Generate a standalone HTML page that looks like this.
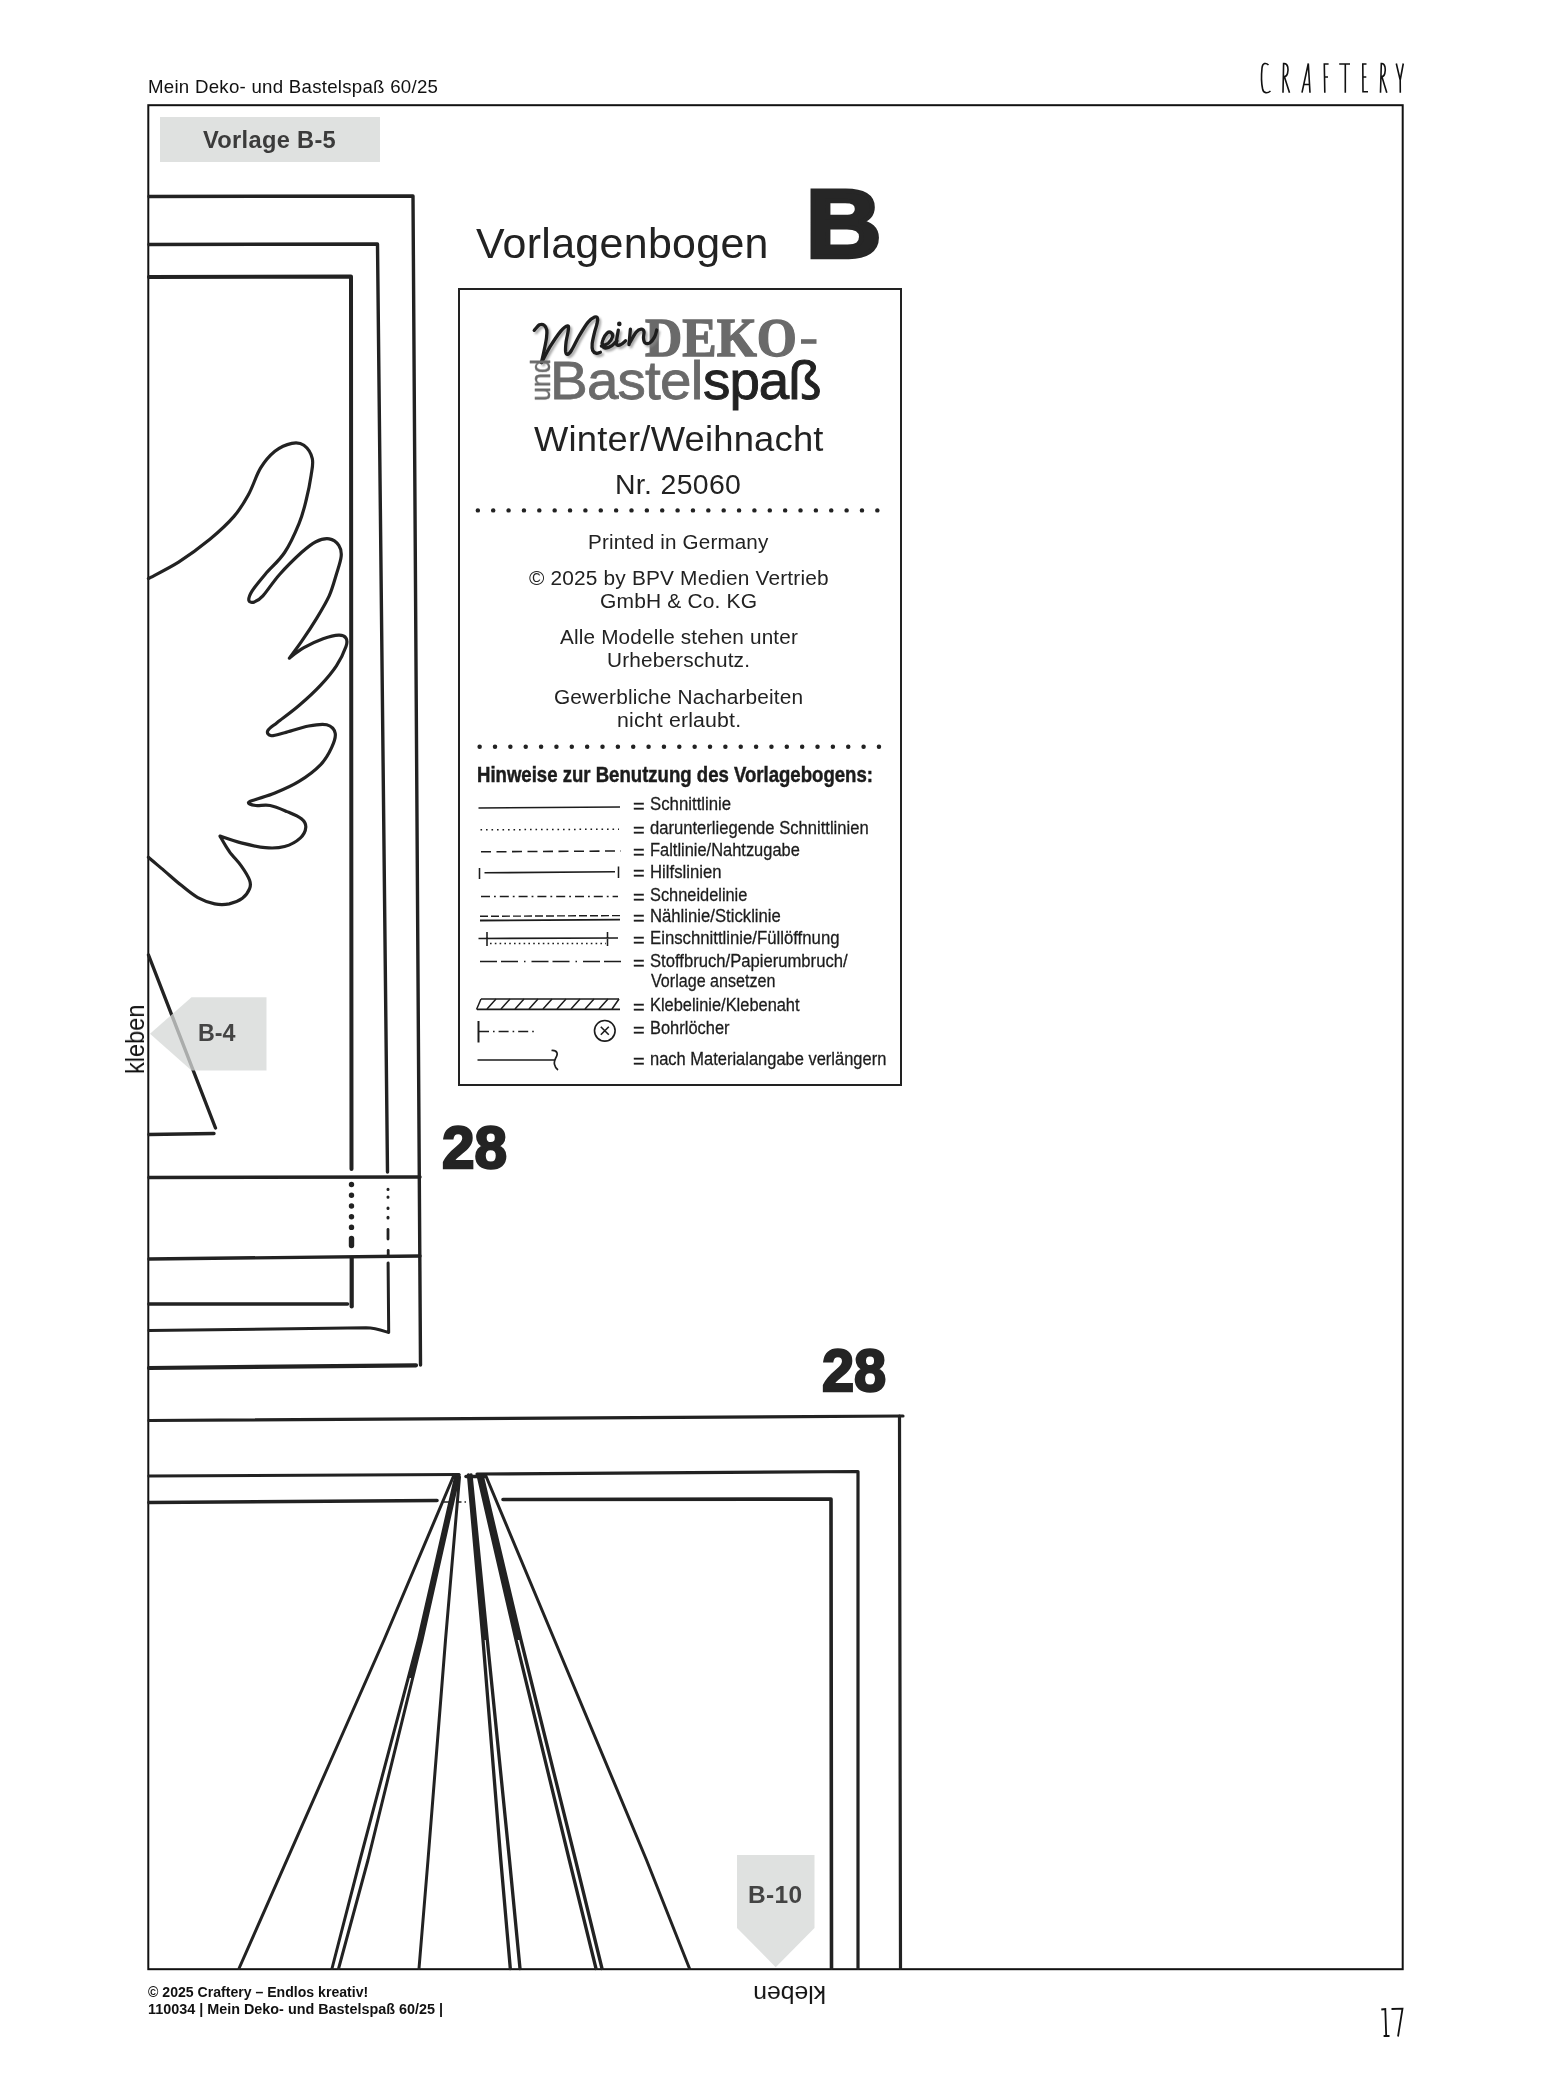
<!DOCTYPE html>
<html lang="de">
<head>
<meta charset="utf-8">
<title>Vorlage B-5</title>
<style>
html,body{margin:0;padding:0;}
html{background:#fff;}
body{width:1551px;height:2075px;position:relative;overflow:hidden;font-family:"Liberation Sans",sans-serif;color:#1a1a1a;}
.abs{position:absolute;white-space:nowrap;line-height:1;}
#art{position:absolute;left:0;top:0;}
.sx{transform-origin:0 0;display:inline-block;}
#tag{left:159.6px;top:117.1px;width:220.4px;height:45.4px;background:#dfe1e0;}
#box{left:457.6px;top:287.6px;width:440.6px;height:794.4px;border:2px solid #222;}
</style>
</head>
<body>
<div class="abs" id="tag"></div>
<div class="abs" id="box"></div>
<svg id="art" width="1551" height="2075" viewBox="0 0 1551 2075" fill="none" stroke="#222" stroke-linecap="round" stroke-linejoin="round">
<!-- page frame -->
<rect x="148.3" y="105.2" width="1254.4" height="1864" stroke="#111" stroke-width="2" stroke-linejoin="miter"/>
<!-- upper-left template: nested frames -->
<g stroke-width="3.4">
<path d="M149,196.5 L413,196 L420.5,1365"/>
<path d="M149,244.5 L377.5,244 L387.5,1172"/>
<path d="M149,277 L351,276.5 L351.5,1169" stroke-width="4"/>
<path d="M149,1177.5 L420,1177"/>
<path d="M149,1259 L420,1256"/>
<path d="M351.7,1258 L351.7,1306.5" stroke-width="4.2"/>
<path d="M149,1304 L347.5,1304" stroke-width="3.6"/>
<path d="M388.1,1263 L388.7,1332.6 C382,1330.5 376,1328 366,1327.8 L149,1330.5" stroke-width="3"/>
<path d="M149,1368 L416,1365.3" stroke-width="4.2"/>
</g>
<!-- dotted fold marks -->
<path d="M351.5,1184.5 L351.5,1230" stroke-width="5.4" stroke-dasharray="0.1 10.6"/>
<path d="M351.5,1238.5 L351.5,1245.5" stroke-width="5.4"/>
<path d="M388,1189.3 L388,1189.4 M388,1197.1 L388,1197.2 M388,1208 L388,1208.6 M388,1217.3 L388,1218" stroke-width="3"/>
<path d="M388,1229.5 L388,1239" stroke-width="2.8"/>
<path d="M388.2,1250.5 L388.2,1255" stroke-width="2.8"/>
<!-- wing -->
<path stroke-width="3.2" d="M148.4,578.6 C153.5,575.8 168.3,568.7 178.6,562.2 C188.8,555.6 200.6,546.9 209.9,539.3 C219.1,531.6 227.6,523.8 234.0,516.4 C240.4,509.0 244.0,502.7 248.4,494.7 C252.9,486.7 256.1,475.4 260.5,468.2 C264.9,461.0 269.7,455.5 274.9,451.3 C280.2,447.2 287.0,444.4 291.8,443.4 C296.6,442.4 300.4,442.8 303.9,445.3 C307.3,447.8 311.1,453.5 312.3,458.6 C313.5,463.6 312.1,468.6 311.1,475.4 C310.1,482.2 308.3,491.5 306.3,499.5 C304.3,507.6 302.7,514.8 299.0,523.6 C295.4,532.4 290.2,544.1 284.6,552.5 C279.0,561.0 270.7,567.8 265.3,574.2 C259.9,580.6 254.8,586.7 252.0,591.1 C249.3,595.5 248.5,598.9 248.9,600.7 C249.3,602.5 252.1,602.7 254.5,601.9 C256.8,601.1 258.7,600.5 262.9,595.9 C267.1,591.3 273.3,581.4 279.8,574.2 C286.2,567.0 295.4,558.0 301.4,552.5 C307.5,547.1 311.3,544.0 315.9,541.7 C320.5,539.4 325.3,538.2 329.2,538.8 C333.0,539.4 336.8,542.4 338.8,545.3 C340.8,548.2 341.6,551.3 341.2,556.1 C340.8,561.0 338.4,567.6 336.4,574.2 C334.4,580.8 332.4,588.7 329.2,595.9 C325.9,603.1 321.7,610.0 317.1,617.6 C312.5,625.2 306.1,634.9 301.4,641.7 C296.8,648.4 291.4,655.3 289.4,658.1 C291.8,656.3 298.2,650.9 303.9,647.7 C309.5,644.5 317.3,640.9 323.1,638.8 C329.0,636.7 335.0,635.3 338.8,635.2 C342.6,635.1 344.8,636.2 346.0,638.1 C347.2,640.0 347.6,641.9 346.0,646.5 C344.4,651.1 340.6,659.4 336.4,665.8 C332.2,672.2 326.9,678.4 320.7,685.1 C314.5,691.7 306.3,699.3 299.0,705.5 C291.8,711.8 282.6,718.2 277.3,722.4 C272.1,726.6 268.7,728.6 267.7,730.8 C266.7,733.1 268.5,735.3 271.3,735.7 C274.1,736.0 278.4,734.4 284.6,732.8 C290.8,731.2 301.6,727.3 308.7,726.0 C315.7,724.7 322.3,723.6 326.7,724.8 C331.2,726.0 334.4,729.4 335.2,733.3 C336.0,737.1 334.0,742.5 331.6,747.7 C329.2,752.9 326.1,759.0 320.7,764.6 C315.3,770.2 306.7,776.7 299.0,781.4 C291.4,786.2 282.2,790.0 274.9,793.0 C267.7,796.0 260.1,797.9 255.7,799.5 C251.2,801.1 248.4,801.6 248.4,802.7 C248.4,803.7 252.0,805.1 255.7,805.5 C259.3,806.0 264.9,804.5 270.1,805.5 C275.3,806.5 281.8,809.4 287.0,811.6 C292.2,813.8 298.3,816.2 301.4,818.8 C304.6,821.4 306.0,824.0 305.8,827.2 C305.6,830.4 303.8,834.9 300.2,838.1 C296.7,841.3 290.4,844.9 284.6,846.5 C278.8,848.1 272.5,848.3 265.3,847.7 C258.1,847.1 248.8,844.8 241.2,842.9 C233.7,841.0 223.5,837.3 220.0,836.1 C221.5,838.7 225.6,846.4 229.2,851.3 C232.7,856.3 237.8,861.0 241.2,865.8 C244.6,870.6 248.2,876.4 249.6,880.2 C251.0,884.1 250.8,885.7 249.6,888.7 C248.4,891.7 245.8,895.8 242.4,898.3 C239.0,900.8 233.8,902.9 229.2,903.9 C224.5,904.8 219.9,904.9 214.7,903.9 C209.5,902.8 203.5,900.7 197.8,897.6 C192.2,894.5 186.6,889.6 181.0,885.1 C175.3,880.6 169.5,875.2 164.1,870.6 C158.7,866.0 151.0,859.6 148.4,857.3"/>
<!-- triangle -->
<path stroke-width="3.4" d="M148.5,955 L215.5,1128"/>
<path stroke-width="3.4" d="M149,1134.5 L214,1133.5"/>
<!-- lower-left template -->
<g stroke-width="3.2">
<path d="M149,1420.5 L903,1416"/>
<path d="M899.5,1416 L900.5,1968.3"/>
<path d="M149,1476 L459,1474.5 M477,1474 L858,1471.5 L858,1968.3"/>
<path d="M149,1502.5 L437,1500.5 M503,1499.5 L831,1499 L831.5,1968.3" stroke-width="3.6"/>
</g>
<!-- fan -->
<g stroke-width="3">
<path d="M454,1475 L384,1640 L331,1760 L239,1968.5"/>
<path d="M456,1475 L418.3,1640 L360,1860 L332,1968.5"/>
<path d="M459,1475 L422,1640 L368,1860 L338.6,1968.5"/>
<path d="M459.5,1477 L445.5,1640 L428,1860 L419,1968.5"/>
<path d="M468.5,1475 L483,1640 L500.8,1860 L510.3,1968.5" stroke-width="3.3"/>
<path d="M471,1475 L487.3,1640 L509.5,1860 L520,1968.5" stroke-width="3.3"/>
<path d="M478,1475 L516,1640 L569.3,1860 L596,1968.5" stroke-width="3.3"/>
<path d="M482,1475 L521,1640 L575.5,1860 L602,1968.5" stroke-width="3.3"/>
<path d="M485.5,1475 L554.5,1640 L646.5,1860 L689.5,1968.5"/>
</g>
<g fill="#222" stroke="none">
<polygon points="468.5,1475 471,1475 487.3,1640 483,1640"/>
<polygon points="478,1475 482,1475 521,1640 516,1640"/>
<polygon points="456,1475 459,1475 422,1640 412,1678 408.5,1678 418.3,1640"/>
</g>
<path d="M466,1476.5 L485,1476.5" stroke-width="3.5"/>
<path d="M444,1502 L466,1502" stroke-width="1.4" stroke-dasharray="5 3 1.5 3" stroke-linecap="butt"/>
<!-- tags -->
<polygon points="191.5,997.3 266.5,997.3 266.5,1070.4 191.5,1070.4 150,1033.7" fill="rgb(213,215,214)" fill-opacity="0.76" stroke="none"/>
<polygon points="737,1855 814.5,1855 814.5,1928 775.7,1967.2 737,1928" fill="#dfe1e0" stroke="none"/>
<!-- info box dotted rows -->
<path d="M477.8,510.4 L877.6,510.4" stroke-width="4.4" stroke-dasharray="0.1 15.265"/>
<path d="M479.6,746.7 L879.2,746.7" stroke-width="4.4" stroke-dasharray="0.1 15.258"/>
<!-- legend samples -->
<g stroke="#1c1c1c" stroke-width="1.55" stroke-linecap="butt">
<path d="M478.5,808 L620,807"/>
<path d="M480.5,829.8 L619,829.2" stroke-width="1.5" stroke-dasharray="1.6 3.9"/>
<path d="M481,851.8 L621,851" stroke-dasharray="10 5.5"/>
<path d="M484.5,872.8 L615,871.8 M479.5,868 L479.5,879 M618.5,866.5 L618.5,878"/>
<path d="M481,896.5 L618,896.5" stroke-width="1.5" stroke-dasharray="9 4 1.8 4"/>
<path d="M480,916.3 L620,915.6" stroke-width="1.4" stroke-dasharray="8 3"/>
<path d="M480,920.5 L620,919.6" stroke-width="1.8"/>
<path d="M478.5,938.5 L618,938 M487,932 L487,946 M607.5,932 L607.5,946"/>
<path d="M490,943.5 L606,943.5" stroke-width="1.5" stroke-dasharray="1.6 3.2"/>
<path d="M480,961.5 L624,961.5" stroke-width="1.6" stroke-dasharray="17 4 17 6 1.5 6"/>
<path d="M481,999 L619,999 M477,1009.3 L620,1009.3" stroke-width="1.7"/>
<path d="M481,999 L476.5,1009.5 M496,999 L487,1009 M510,999 L501,1009 M524,999 L515,1009 M538,999 L529,1009 M552,999 L543,1009 M566,999 L557,1009 M580,999 L571,1009 M594,999 L585,1009 M608,999 L599,1009 M619,999 L612,1009" stroke-width="1.5"/>
<path d="M478.5,1021 L478.5,1042.5" stroke-width="2"/>
<path d="M479,1031.5 L537,1031.5" stroke-width="1.5" stroke-dasharray="10 4 1.6 4"/>
<circle cx="604.8" cy="1030.8" r="10.3" stroke-width="1.6"/>
<path d="M600.8,1026.8 L608.8,1034.8 M608.8,1026.8 L600.8,1034.8" stroke-width="1.6"/>
<path d="M477.5,1060 L555,1060 M551.5,1050.5 C557.5,1050 558.5,1054 555.5,1058.5 C553.5,1062 554,1067 558,1070" stroke-width="1.7"/>
</g>
<!-- logo -->
<rect x="801" y="339.2" width="15.5" height="4.6" fill="#6a6a6a" stroke="none"/>
<defs><filter id="sh" x="-0.1" y="-0.2" width="1.2" height="1.4"><feGaussianBlur stdDeviation="1.1"/></filter></defs>
<g stroke="#8a8a8a" stroke-width="3.2" fill="none" filter="url(#sh)" transform="translate(2,2.2)" opacity="0.75">
<path d="M534.2,330.3 C535.1,329.4 537.8,325.7 539.5,324.8 C541.2,324.0 543.1,324.4 544.3,325.3 C545.6,326.2 546.4,328.0 546.8,330.1 C547.1,332.2 546.9,334.7 546.5,337.9 C546.1,341.1 545.2,345.4 544.3,349.5 C543.5,353.6 541.9,360.4 541.4,362.5"/>
<path d="M541.4,362.5 C542.9,359.9 546.9,351.8 550.1,346.6 C553.4,341.3 557.9,334.6 560.8,331.1 C563.7,327.6 566.3,326.0 567.6,325.8 C568.8,325.6 568.6,327.5 568.3,330.1 C568.1,332.8 566.6,338.2 566.1,341.8 C565.7,345.3 565.4,349.3 565.6,351.4 C565.9,353.5 566.6,354.5 567.6,354.3 C568.5,354.2 569.5,353.5 571.4,350.5 C573.4,347.4 576.4,340.6 579.2,335.9 C581.9,331.3 585.3,325.6 587.9,322.4 C590.4,319.3 593.0,317.8 594.6,317.1 C596.2,316.4 597.1,317.0 597.5,318.1 C597.9,319.1 597.5,321.0 597.1,323.4 C596.6,325.7 595.4,328.7 594.6,332.1 C593.8,335.5 592.5,340.6 592.2,343.7 C591.9,346.7 592.0,348.8 592.7,350.5 C593.4,352.1 595.3,353.1 596.6,353.4 C597.9,353.6 599.8,352.4 600.4,352.2"/>
<path d="M601.4,346.1 C602.5,345.6 606.3,344.7 608.2,343.2 C610.0,341.7 612.0,338.7 612.5,336.9 C613.0,335.1 612.0,333.2 611.1,332.6 C610.2,331.9 608.6,331.8 607.2,333.0 C605.8,334.3 603.7,337.7 602.9,339.8 C602.0,341.9 601.9,344.2 602.4,345.6 C602.9,347.0 604.1,348.0 605.8,348.0 C607.4,348.0 610.2,346.8 612.0,345.6 C613.9,344.4 616.1,341.6 616.9,340.8"/>
<path d="M618.3,330.1 C618.0,332.4 616.1,341.2 616.4,343.7 C616.7,346.1 618.7,345.3 620.3,344.8 C621.8,344.4 624.7,341.5 625.6,340.8"/>
<path d="M630.4,329.2 C630.2,331.8 629.2,342.1 629.0,344.7"/>
<path d="M629.4,343.2 C630.6,341.3 634.3,334.4 636.2,332.1 C638.2,329.7 639.8,329.3 641.1,329.2 C642.3,329.1 643.6,330.1 644.0,331.6 C644.4,333.0 643.3,336.0 643.5,337.9 C643.6,339.7 643.9,341.9 644.9,342.7 C646.0,343.6 648.1,343.9 649.8,342.9 C651.4,341.9 653.4,339.1 654.6,336.9 C655.8,334.8 656.4,331.1 656.7,330.0"/>
</g>
<g id="mein" stroke="#1e1e1e" stroke-width="3.3" fill="none">
<path d="M534.2,330.3 C535.1,329.4 537.8,325.7 539.5,324.8 C541.2,324.0 543.1,324.4 544.3,325.3 C545.6,326.2 546.4,328.0 546.8,330.1 C547.1,332.2 546.9,334.7 546.5,337.9 C546.1,341.1 545.2,345.4 544.3,349.5 C543.5,353.6 541.9,360.4 541.4,362.5"/>
<path d="M541.4,362.5 C542.9,359.9 546.9,351.8 550.1,346.6 C553.4,341.3 557.9,334.6 560.8,331.1 C563.7,327.6 566.3,326.0 567.6,325.8 C568.8,325.6 568.6,327.5 568.3,330.1 C568.1,332.8 566.6,338.2 566.1,341.8 C565.7,345.3 565.4,349.3 565.6,351.4 C565.9,353.5 566.6,354.5 567.6,354.3 C568.5,354.2 569.5,353.5 571.4,350.5 C573.4,347.4 576.4,340.6 579.2,335.9 C581.9,331.3 585.3,325.6 587.9,322.4 C590.4,319.3 593.0,317.8 594.6,317.1 C596.2,316.4 597.1,317.0 597.5,318.1 C597.9,319.1 597.5,321.0 597.1,323.4 C596.6,325.7 595.4,328.7 594.6,332.1 C593.8,335.5 592.5,340.6 592.2,343.7 C591.9,346.7 592.0,348.8 592.7,350.5 C593.4,352.1 595.3,353.1 596.6,353.4 C597.9,353.6 599.8,352.4 600.4,352.2"/>
<path d="M601.4,346.1 C602.5,345.6 606.3,344.7 608.2,343.2 C610.0,341.7 612.0,338.7 612.5,336.9 C613.0,335.1 612.0,333.2 611.1,332.6 C610.2,331.9 608.6,331.8 607.2,333.0 C605.8,334.3 603.7,337.7 602.9,339.8 C602.0,341.9 601.9,344.2 602.4,345.6 C602.9,347.0 604.1,348.0 605.8,348.0 C607.4,348.0 610.2,346.8 612.0,345.6 C613.9,344.4 616.1,341.6 616.9,340.8"/>
<path d="M618.3,330.1 C618.0,332.4 616.1,341.2 616.4,343.7 C616.7,346.1 618.7,345.3 620.3,344.8 C621.8,344.4 624.7,341.5 625.6,340.8"/>
<path d="M630.4,329.2 C630.2,331.8 629.2,342.1 629.0,344.7"/>
<path d="M629.4,343.2 C630.6,341.3 634.3,334.4 636.2,332.1 C638.2,329.7 639.8,329.3 641.1,329.2 C642.3,329.1 643.6,330.1 644.0,331.6 C644.4,333.0 643.3,336.0 643.5,337.9 C643.6,339.7 643.9,341.9 644.9,342.7 C646.0,343.6 648.1,343.9 649.8,342.9 C651.4,341.9 653.4,339.1 654.6,336.9 C655.8,334.8 656.4,331.1 656.7,330.0"/>
</g>
<circle cx="619.3" cy="323.9" r="2.3" fill="#1e1e1e" stroke="none"/>
<!-- CRAFTERY wordmark -->
<g id="craftery" stroke="#111" stroke-width="1.6" stroke-linecap="butt" stroke-linejoin="miter">
<path d="M1268.5,65 C1266,62.5 1262.5,62.8 1262,68 C1261.2,76 1261.5,84 1262.6,89 C1263.5,93.5 1267.5,93.5 1270.5,91"/>
<path d="M1283,92.7 L1283.6,63.5 C1288.5,63 1288.5,70 1287.5,73.5 C1286.8,76 1285,77 1283.5,77 M1284.5,77 L1289.5,92.7"/>
<path d="M1302,92.7 L1308.3,63.5 L1310,92.7 M1304,84.5 L1309.5,84.5"/>
<path d="M1324.8,92.7 L1324.3,64 L1328.6,64 M1324.5,77 L1328,77"/>
<path d="M1339.2,64 L1350,64 M1345.3,64 L1345.3,92.7"/>
<path d="M1368,91.8 L1363,91.8 L1362.8,64 L1366.5,64 M1363,77 L1366.3,77"/>
<path d="M1380.5,92.7 L1381.3,63.5 C1385.5,63 1385.8,70 1384.8,73.5 C1384.2,76 1382.8,77 1381,77 M1382,77 L1386.8,92.7"/>
<path d="M1396.3,63.5 L1400.2,80 L1403.3,63.5 M1400.2,79 L1400.3,92.7"/>
</g>
<!-- page number 17 -->
<g stroke="#111" stroke-width="1.8" stroke-linecap="butt" stroke-linejoin="miter">
<path d="M1381.3,2009.5 L1385.3,2009 L1386.2,2035.8 M1383.6,2036 L1389.5,2036"/>
<path d="M1391.5,2009 L1402.5,2008.6 L1398,2036.5"/>
</g>
</svg>
<div class="abs" id="hdr" style="left:147.8px;top:77.6px;font-size:18.5px;letter-spacing:0.25px;color:#111;transform-origin:0 0;transform:scaleX(1.0094);">Mein Deko- und Bastelspaß 60/25</div>
<div class="abs" id="tagt" style="left:203.0px;top:128.8px;font-weight:bold;font-size:23.2px;letter-spacing:0.3px;color:#3b3b3b;transform-origin:0 0;transform:scaleX(1.0200);">Vorlage B-5</div>
<div class="abs" id="foot1" style="left:148.1px;top:1984.9px;font-weight:bold;font-size:14.1px;color:#111;transform-origin:0 0;transform:scaleX(0.9995);">© 2025 Craftery – Endlos kreativ!</div>
<div class="abs" id="foot2" style="left:147.8px;top:2001.5px;font-weight:bold;font-size:14.1px;color:#111;transform-origin:0 0;transform:scaleX(1.0202);">110034 | Mein Deko- und Bastelspaß 60/25 |</div>
<div class="abs" id="vb" style="left:476.0px;top:222.8px;font-size:42px;letter-spacing:0.3px;color:#222;transform-origin:0 0;transform:scaleX(1.0219);">Vorlagenbogen</div>
<div class="abs" id="ww" style="left:534.4px;top:420.8px;font-size:35.2px;letter-spacing:0.2px;color:#222;transform-origin:0 0;transform:scaleX(1.0336);">Winter/Weihnacht</div>
<div class="abs" id="nr" style="left:615.1px;top:471.3px;font-size:27.3px;letter-spacing:0.3px;color:#222;transform-origin:0 0;transform:scaleX(1.0424);">Nr. 25060</div>
<div class="abs" id="t1" style="left:587.6px;top:533.1px;font-size:19.4px;letter-spacing:0.15px;color:#222;transform-origin:0 0;transform:scaleX(1.0631);">Printed in Germany</div>
<div class="abs" id="t2" style="left:529.1px;top:569.1px;font-size:19.4px;letter-spacing:0.15px;color:#222;transform-origin:0 0;transform:scaleX(1.0766);">© 2025 by BPV Medien Vertrieb</div>
<div class="abs" id="t3" style="left:600.1px;top:592.2px;font-size:19.4px;letter-spacing:0.15px;color:#222;transform-origin:0 0;transform:scaleX(1.0825);">GmbH &amp; Co. KG</div>
<div class="abs" id="t4" style="left:560.1px;top:628.3px;font-size:19.4px;letter-spacing:0.15px;color:#222;transform-origin:0 0;transform:scaleX(1.0694);">Alle Modelle stehen unter</div>
<div class="abs" id="t5" style="left:607.4px;top:650.9px;font-size:19.4px;letter-spacing:0.15px;color:#222;transform-origin:0 0;transform:scaleX(1.0710);">Urheberschutz.</div>
<div class="abs" id="t6" style="left:554.0px;top:688.1px;font-size:19.4px;letter-spacing:0.15px;color:#222;transform-origin:0 0;transform:scaleX(1.0739);">Gewerbliche Nacharbeiten</div>
<div class="abs" id="t7" style="left:617.1px;top:710.7px;font-size:19.4px;letter-spacing:0.15px;color:#222;transform-origin:0 0;transform:scaleX(1.0982);">nicht erlaubt.</div>
<div class="abs" id="hin" style="left:476.9px;top:765.1px;font-weight:bold;font-size:21.3px;color:#1c1c1c;-webkit-text-stroke:0.45px #1c1c1c;transform-origin:0 0;transform:scaleX(0.8721);">Hinweise zur Benutzung des Vorlagebogens:</div>
<div class="abs" id="l1" style="left:650.1px;top:794.2px;font-size:19.1px;color:#1c1c1c;-webkit-text-stroke:0.3px #1c1c1c;transform-origin:0 0;transform:scaleX(0.8791);">Schnittlinie</div>
<div class="abs" id="e1" style="left:633.4px;top:795.8px;font-size:19.1px;color:#1c1c1c;-webkit-text-stroke:0.35px #1c1c1c;transform-origin:0 0;transform:scaleX(1.0500);">=</div>
<div class="abs" id="l2" style="left:650.1px;top:818.2px;font-size:19.1px;color:#1c1c1c;-webkit-text-stroke:0.3px #1c1c1c;transform-origin:0 0;transform:scaleX(0.8692);">darunterliegende Schnittlinien</div>
<div class="abs" id="e2" style="left:633.4px;top:819.8px;font-size:19.1px;color:#1c1c1c;-webkit-text-stroke:0.35px #1c1c1c;transform-origin:0 0;transform:scaleX(1.0500);">=</div>
<div class="abs" id="l3" style="left:650.1px;top:840.4px;font-size:19.1px;color:#1c1c1c;-webkit-text-stroke:0.3px #1c1c1c;transform-origin:0 0;transform:scaleX(0.8605);">Faltlinie/Nahtzugabe</div>
<div class="abs" id="e3" style="left:633.4px;top:841.8px;font-size:19.1px;color:#1c1c1c;-webkit-text-stroke:0.35px #1c1c1c;transform-origin:0 0;transform:scaleX(1.0500);">=</div>
<div class="abs" id="l4" style="left:650.1px;top:861.5px;font-size:19.1px;color:#1c1c1c;-webkit-text-stroke:0.3px #1c1c1c;transform-origin:0 0;transform:scaleX(0.8750);">Hilfslinien</div>
<div class="abs" id="e4" style="left:633.4px;top:862.8px;font-size:19.1px;color:#1c1c1c;-webkit-text-stroke:0.35px #1c1c1c;transform-origin:0 0;transform:scaleX(1.0500);">=</div>
<div class="abs" id="l5" style="left:650.1px;top:884.9px;font-size:19.1px;color:#1c1c1c;-webkit-text-stroke:0.3px #1c1c1c;transform-origin:0 0;transform:scaleX(0.8571);">Schneidelinie</div>
<div class="abs" id="e5" style="left:633.4px;top:886.8px;font-size:19.1px;color:#1c1c1c;-webkit-text-stroke:0.35px #1c1c1c;transform-origin:0 0;transform:scaleX(1.0500);">=</div>
<div class="abs" id="l6" style="left:650.1px;top:906.2px;font-size:19.1px;color:#1c1c1c;-webkit-text-stroke:0.3px #1c1c1c;transform-origin:0 0;transform:scaleX(0.8743);">Nählinie/Sticklinie</div>
<div class="abs" id="e6" style="left:633.4px;top:907.8px;font-size:19.1px;color:#1c1c1c;-webkit-text-stroke:0.35px #1c1c1c;transform-origin:0 0;transform:scaleX(1.0500);">=</div>
<div class="abs" id="l7" style="left:650.1px;top:927.6px;font-size:19.1px;color:#1c1c1c;-webkit-text-stroke:0.3px #1c1c1c;transform-origin:0 0;transform:scaleX(0.8766);">Einschnittlinie/Füllöffnung</div>
<div class="abs" id="e7" style="left:633.4px;top:929.8px;font-size:19.1px;color:#1c1c1c;-webkit-text-stroke:0.35px #1c1c1c;transform-origin:0 0;transform:scaleX(1.0500);">=</div>
<div class="abs" id="l8" style="left:650.1px;top:951.2px;font-size:19.1px;color:#1c1c1c;-webkit-text-stroke:0.3px #1c1c1c;transform-origin:0 0;transform:scaleX(0.8712);">Stoffbruch/Papierumbruch/</div>
<div class="abs" id="e8" style="left:633.4px;top:952.8px;font-size:19.1px;color:#1c1c1c;-webkit-text-stroke:0.35px #1c1c1c;transform-origin:0 0;transform:scaleX(1.0500);">=</div>
<div class="abs" id="l9" style="left:651.0px;top:971.1px;font-size:19.1px;color:#1c1c1c;-webkit-text-stroke:0.3px #1c1c1c;transform-origin:0 0;transform:scaleX(0.8429);">Vorlage ansetzen</div>
<div class="abs" id="l10" style="left:650.1px;top:995.4px;font-size:19.1px;color:#1c1c1c;-webkit-text-stroke:0.3px #1c1c1c;transform-origin:0 0;transform:scaleX(0.8590);">Klebelinie/Klebenaht</div>
<div class="abs" id="e10" style="left:633.4px;top:996.8px;font-size:19.1px;color:#1c1c1c;-webkit-text-stroke:0.35px #1c1c1c;transform-origin:0 0;transform:scaleX(1.0500);">=</div>
<div class="abs" id="l11" style="left:650.1px;top:1017.6px;font-size:19.1px;color:#1c1c1c;-webkit-text-stroke:0.3px #1c1c1c;transform-origin:0 0;transform:scaleX(0.8615);">Bohrlöcher</div>
<div class="abs" id="e11" style="left:633.4px;top:1019.8px;font-size:19.1px;color:#1c1c1c;-webkit-text-stroke:0.35px #1c1c1c;transform-origin:0 0;transform:scaleX(1.0500);">=</div>
<div class="abs" id="l12" style="left:650.1px;top:1049.2px;font-size:19.1px;color:#1c1c1c;-webkit-text-stroke:0.3px #1c1c1c;transform-origin:0 0;transform:scaleX(0.8629);">nach Materialangabe verlängern</div>
<div class="abs" id="e12" style="left:633.4px;top:1050.8px;font-size:19.1px;color:#1c1c1c;-webkit-text-stroke:0.35px #1c1c1c;transform-origin:0 0;transform:scaleX(1.0500);">=</div>
<div class="abs" id="b4" style="left:197.9px;top:1022.4px;font-weight:bold;font-size:23px;color:#444;transform-origin:0 0;transform:scaleX(1.0114);">B-4</div>
<div class="abs" id="b10" style="left:747.8px;top:1884.4px;font-weight:bold;font-size:23px;letter-spacing:0.3px;color:#444;transform-origin:0 0;transform:scaleX(1.0646);">B-10</div>
<div class="abs" id="deko" style="left:645.0px;top:311.2px;font-family:'Liberation Serif',serif;font-weight:bold;font-size:54.5px;color:#6a6a6a;-webkit-text-stroke:1.3px #6a6a6a;z-index:-1;transform-origin:0 0;transform:scaleX(0.9465);">DEKO</div>
<div class="abs" id="bastel" style="left:549.8px;top:354.1px;font-size:54.5px;letter-spacing:-0.8px;color:#6a6a6a;-webkit-text-stroke:0.8px #6a6a6a;transform-origin:0 0;transform:scaleX(1.0393);">Bastel</div>
<div class="abs" id="spass" style="left:702.6px;top:354.1px;font-size:54.5px;letter-spacing:-1.0px;color:#222;-webkit-text-stroke:0.9px #222;transform-origin:0 0;transform:scaleX(1.0052);">spaß</div>
<div class="abs" id="bigB" style="left:805.6px;top:176.2px;font-size:96px;font-weight:bold;color:#262626;-webkit-text-stroke:4.5px #262626;transform-origin:0 0;transform:scaleX(1.085);">B</div>
<div class="abs" id="n1" style="left:442px;top:1117.6px;font-size:60px;font-weight:bold;color:#242424;-webkit-text-stroke:2.4px #242424;transform-origin:0 0;transform:scaleX(0.975);">28</div>
<div class="abs" id="n2" style="left:822px;top:1340.8px;font-size:60px;font-weight:bold;color:#242424;-webkit-text-stroke:2.4px #242424;transform-origin:0 0;transform:scaleX(0.962);">28</div>
<div class="abs" id="kl1" style="left:122px;top:1073.6px;font-size:26px;will-change:transform;transform-origin:0 0;transform:rotate(-90deg) scaleX(0.905);color:#111;">kleben</div>
<div class="abs" id="kl2" style="left:826.3px;top:2006.3px;font-size:24.7px;will-change:transform;transform-origin:0 0;transform:rotate(180deg);color:#111;">kleben</div>
<div class="abs" id="und" style="left:527.8px;top:401.0px;font-size:27px;color:#6a6a6a;-webkit-text-stroke:0.4px #6a6a6a;will-change:transform;transform-origin:0 0;transform:rotate(-90deg) scaleX(0.93);">und</div>

</body>
</html>
